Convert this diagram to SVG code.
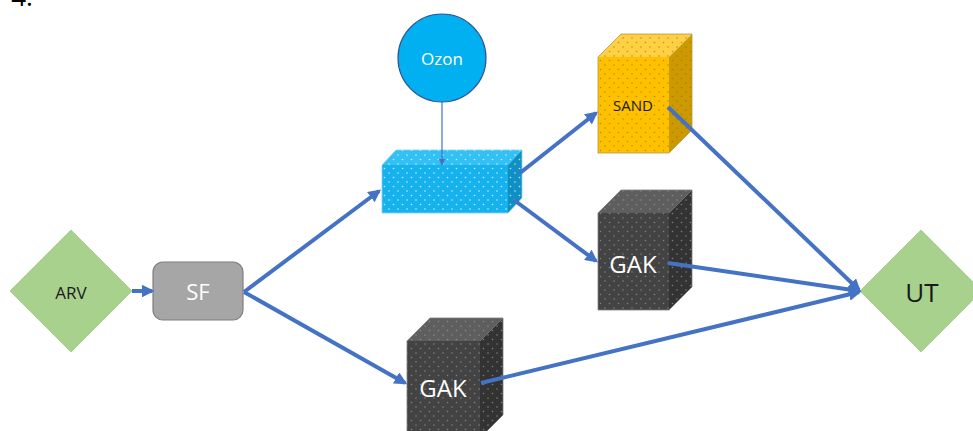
<svg xmlns="http://www.w3.org/2000/svg" width="973" height="431" viewBox="0 0 973 431">
<style>
text{font-family:"Open Sans","Noto Sans","Liberation Sans",sans-serif;text-anchor:middle;dominant-baseline:central}
.edge{stroke:#4472c4;stroke-width:4;fill:none;marker-end:url(#ah)}
.thin{stroke:#4472c4;stroke-width:1.2;fill:none;marker-end:url(#ahs)}
.dia{fill:#a9d18e;stroke:#a9d18e}
</style>
<defs>
<marker id="ah" viewBox="0 0 10 10" refX="8" refY="5" markerWidth="3.2" markerHeight="3.2" orient="auto" markerUnits="strokeWidth">
<path d="M0,0 L10,5 L0,10 z" fill="#4472c4"/>
</marker>
<marker id="ahs" viewBox="0 0 10 10" refX="9" refY="5" markerWidth="6" markerHeight="6" orient="auto" markerUnits="strokeWidth">
<path d="M0,0 L10,5 L0,10 z" fill="#4472c4"/>
</marker>
<pattern id="dw" width="9" height="9" patternUnits="userSpaceOnUse">
<circle cx="2" cy="2" r="0.8" fill="#ffffff" fill-opacity="0.75"/>
<circle cx="6.5" cy="6.5" r="0.8" fill="#ffffff" fill-opacity="0.75"/>
</pattern>
<pattern id="dy" width="9" height="9" patternUnits="userSpaceOnUse">
<circle cx="2" cy="2" r="0.8" fill="#8a6a00" fill-opacity="0.6"/>
<circle cx="6.5" cy="6.5" r="0.8" fill="#8a6a00" fill-opacity="0.6"/>
</pattern>
<pattern id="dg" width="9" height="9" patternUnits="userSpaceOnUse">
<circle cx="2" cy="2" r="0.8" fill="#9a9a9a" fill-opacity="0.7"/>
<circle cx="6.5" cy="6.5" r="0.8" fill="#9a9a9a" fill-opacity="0.7"/>
</pattern>
</defs>
<rect width="973" height="431" fill="#ffffff"/>
<text x="22" y="-4" font-size="26" fill="#000">4.</text>

<g id="arv">
<polygon class="dia" points="71,230 132,291 71,352 10,291"/>
<text x="71" y="292" font-size="17" fill="#1a1a1a">ARV</text>
</g>

<g id="sf">
<rect x="153" y="262" width="90" height="58" rx="10" fill="#a6a6a6" stroke="#7f7f7f" stroke-width="1.2"/>
<text x="198" y="291" font-size="22" fill="#ffffff">SF</text>
</g>

<g id="ozon">
<circle cx="442" cy="58" r="44" fill="#00b0f0" stroke="#2f5597" stroke-width="1.2"/>
<text x="442" y="58" font-size="17" fill="#ffffff">Ozon</text>
</g>

<g id="ozonbox">
<polygon points="382,165 396,150 522,150 508,165" fill="#33c1f3"/>
<polygon points="508,165 522,150 522,198 508,213" fill="#0f8fc4"/>
<rect x="382" y="165" width="126" height="48" fill="#16b2ee"/>
<polygon points="382,165 396,150 522,150 522,198 508,213 382,213" fill="url(#dw)" stroke="#7fd3f5" stroke-width="0.8"/>
</g>

<g id="sand">
<polygon points="598,57 621,34 692,34 669,57" fill="#ffd044"/>
<polygon points="669,57 692,34 692,130 669,153" fill="#cc9a00"/>
<rect x="598" y="57" width="71" height="96" fill="#ffc000"/>
<polygon points="598,57 621,34 692,34 692,130 669,153 598,153" fill="url(#dy)" stroke="#b8964a" stroke-width="0.8"/>
<text x="633" y="105" font-size="15" fill="#1a1a1a">SAND</text>
</g>

<g id="gak1">
<polygon points="598,213 621,190 692,190 669,213" fill="#5e5e5e"/>
<polygon points="669,213 692,190 692,287 669,310" fill="#333333"/>
<rect x="598" y="213" width="71" height="97" fill="#434343"/>
<polygon points="598,213 621,190 692,190 692,287 669,310 598,310" fill="url(#dg)" stroke="#7f7f7f" stroke-width="0.8"/>
<text x="633" y="263" font-size="24" fill="#ffffff">GAK</text>
</g>

<g id="gak2">
<polygon points="407,341 430,318 503,318 480,341" fill="#5e5e5e"/>
<polygon points="480,341 503,318 503,415 480,438" fill="#333333"/>
<rect x="407" y="341" width="73" height="97" fill="#434343"/>
<polygon points="407,341 430,318 503,318 503,415 480,438 407,438" fill="url(#dg)" stroke="#7f7f7f" stroke-width="0.8"/>
<text x="443" y="387" font-size="24" fill="#ffffff">GAK</text>
</g>

<g id="ut">
<polygon class="dia" points="921,230 982,291 921,352 860,291"/>
<text x="922" y="292" font-size="26" fill="#1a1a1a">UT</text>
</g>

<g id="connectors">
<line class="edge" x1="132" y1="291" x2="152" y2="291"/>
<line class="edge" x1="244" y1="292" x2="379" y2="191"/>
<line class="edge" x1="244" y1="292" x2="405" y2="383"/>
<line class="edge" x1="520" y1="173" x2="596" y2="113"/>
<line class="edge" x1="514" y1="200" x2="596" y2="261"/>
<line class="edge" x1="668" y1="107" x2="859" y2="290"/>
<line class="edge" x1="668" y1="263" x2="859" y2="291"/>
<line class="edge" x1="481" y1="383" x2="859" y2="292"/>
<line class="thin" x1="442" y1="102" x2="442" y2="165"/>
</g>
</svg>
